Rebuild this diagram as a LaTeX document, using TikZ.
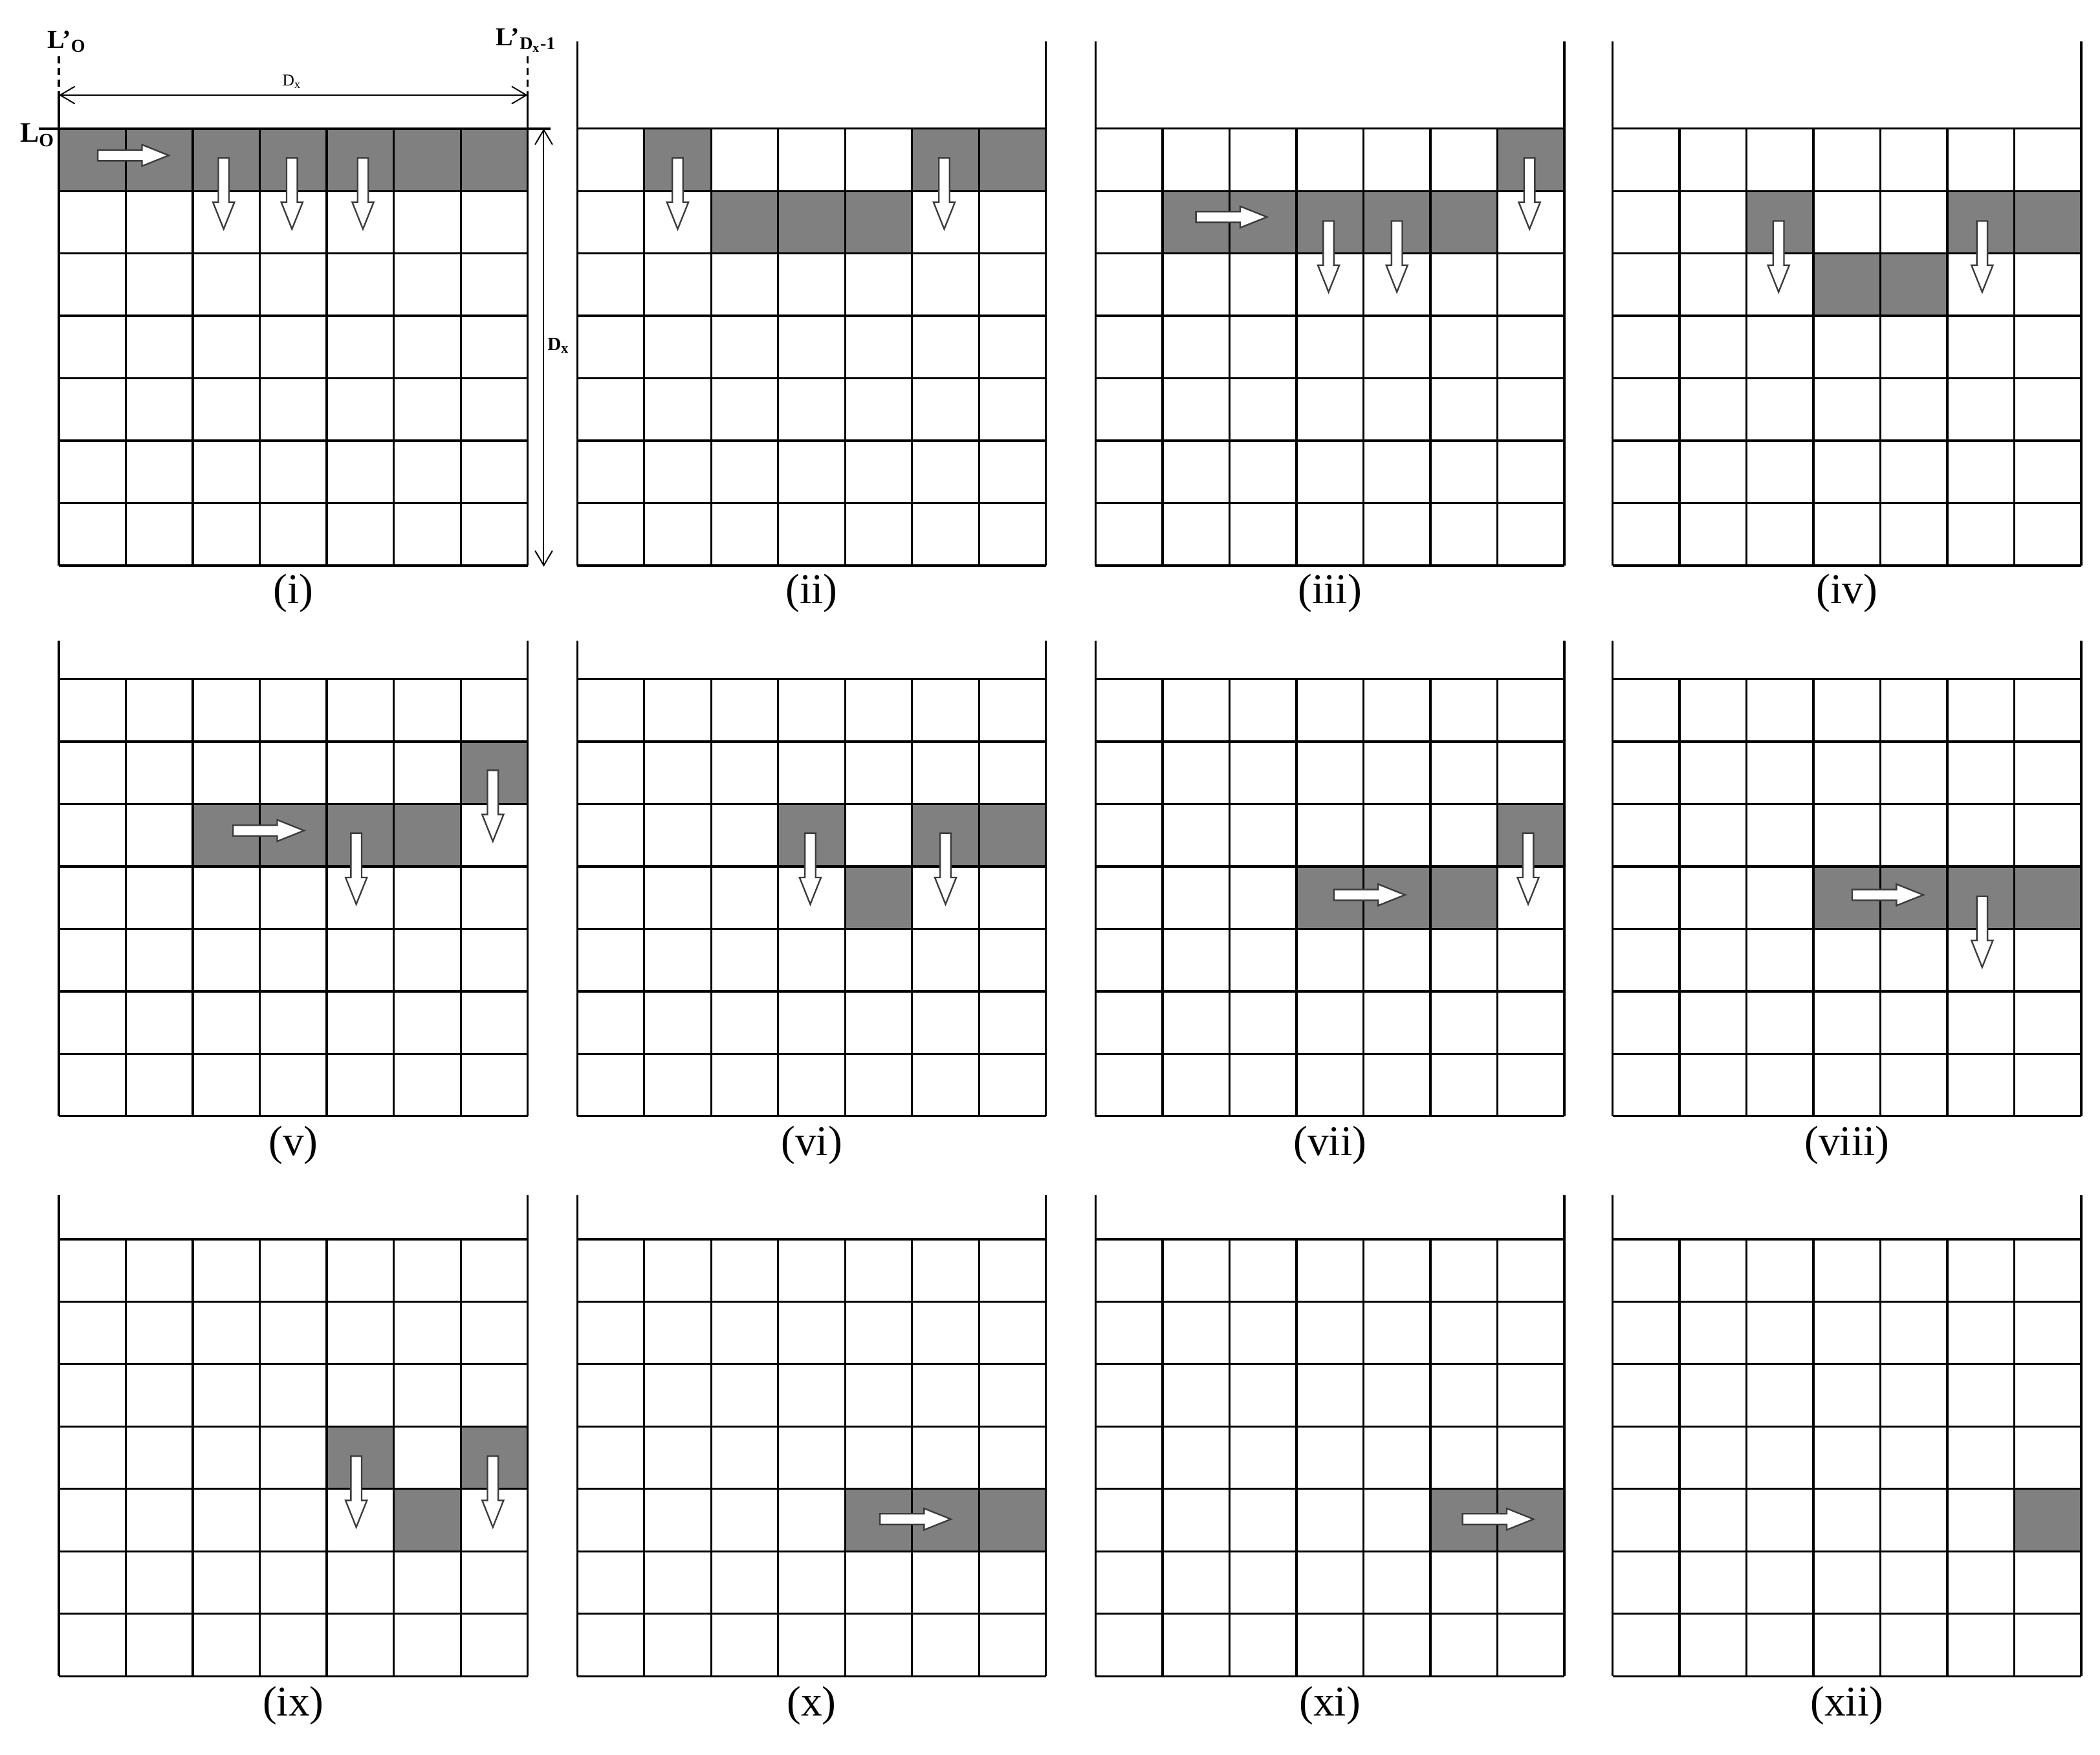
\documentclass[tikz,border=0pt]{standalone}
\usepackage{fontspec}
\setmainfont{Liberation Serif}
\usetikzlibrary{arrows.meta}
\definecolor{cellgray}{RGB}{128,128,128}
\definecolor{arrowline}{RGB}{60,60,60}
\tikzset{
  gridline/.style={line width=0.9pt, black},
  cellshade/.style={fill=cellgray},
  blockarrow/.style={fill=white, draw=arrowline, line width=0.65pt, line join=miter},
  dimarrow/.style={line width=0.55pt, {Straight Barb[length=0.22cm,width=0.26cm]}-{Straight Barb[length=0.22cm,width=0.26cm]}},
  caption/.style={font=\fontsize{18}{20}\selectfont, inner sep=0pt},
  smalllab/.style={inner sep=0pt},
}
\newcommand\cellfill[2]{\fill[cellshade] ({#1*50},{#2*46.6}) rectangle ({(#1+1)*50},{(#2+1)*46.6});}
\newcommand\gridbody{%
  \foreach \i in {0,...,7} {
    \draw[gridline] ({\i*50},0) -- ({\i*50},326.2);
    \draw[gridline] (0,{\i*46.6}) -- (350,{\i*46.6});
  }}
\newcommand\walls[1]{\draw[gridline] (0,0) -- (0,-#1); \draw[gridline] (350,0) -- (350,-#1);}
\newcommand\rarr[2]{\draw[blockarrow] (#1,#2-4) -- ++(33,0) -- ++(0,-4) -- ++(20,8) -- ++(-20,8) -- ++(0,-4) -- ++(-33,0) -- cycle;}
\newcommand\darr[2]{\draw[blockarrow] (#1-4,#2) -- ++(0,33) -- ++(-4,0) -- ++(8,20) -- ++(8,-20) -- ++(-4,0) -- ++(0,-33) -- cycle;}
\begin{document}
\begin{tikzpicture}[x=0.02cm,y=-0.02cm]
\useasboundingbox (0,0) rectangle (1568,1310);
\fill[white] (0,0) rectangle (1568,1310);

% ---------- panel (i)
\begin{scope}[shift={(44,96)}]
  \foreach \c in {0,...,6} {\cellfill{\c}{0}}
  \gridbody
\end{scope}
\coordinate (lt) at (44,42);
\coordinate (lm) at (44,71);
\coordinate (lb) at (44,96);
\coordinate (rt) at (394,42);
\coordinate (rm) at (394,71);
\coordinate (rb) at (394,96);
\draw[gridline, dashed, dash pattern=on 3pt off 2pt] (lt) -- (lm);
\draw[gridline, dashed, dash pattern=on 3pt off 2pt] (rt) -- (rm);
\draw[gridline] (lm) -- (lb);
\draw[gridline] (rm) -- (rb);
\draw[dimarrow] (lm) -- (rm);
\coordinate (l0a) at (29,96);
\coordinate (l0b) at (411,96);
\draw[line width=1.2pt] (l0a) -- (l0b);
\coordinate (va) at (406,96);
\coordinate (vb) at (406,423);
\draw[dimarrow] (va) -- (vb);
\node[smalllab, font=\bfseries\fontsize{11}{12}\selectfont] (lpo) at (50,31) {L’\textsubscript{O}};
\node[smalllab, font=\bfseries\fontsize{11}{12}\selectfont] (lpd) at (393,30) {L’\textsubscript{D\textsubscript{x}-1}};
\node[smalllab, font=\bfseries\fontsize{12}{13}\selectfont] (lo) at (28,101) {L\textsubscript{O}};
\node[smalllab, font=\fontsize{7}{8}\selectfont] (dxh) at (218,61) {D\textsubscript{x}};
\node[smalllab, font=\bfseries\fontsize{8}{9}\selectfont] (dxv) at (417,258) {D\textsubscript{x}};
\rarr{73}{116}
\darr{167}{118} \darr{218}{118} \darr{271}{118}
\node[caption] (c1) at (219,443) {(i)};

% ---------- panel (ii)
\begin{scope}[shift={(431,96)}]
  \cellfill{1}{0} \cellfill{5}{0} \cellfill{6}{0}
  \cellfill{2}{1} \cellfill{3}{1} \cellfill{4}{1}
  \gridbody \walls{65}
\end{scope}
\darr{506}{118} \darr{705}{118}
\node[caption] (c2) at (606,443) {(ii)};

% ---------- panel (iii)
\begin{scope}[shift={(818,96)}]
  \cellfill{6}{0}
  \foreach \c in {1,...,5} {\cellfill{\c}{1}}
  \gridbody \walls{65}
\end{scope}
\rarr{893}{162}
\darr{992}{165} \darr{1043}{165} \darr{1142}{118}
\node[caption] (c3) at (993,443) {(iii)};

% ---------- panel (iv)
\begin{scope}[shift={(1204,96)}]
  \cellfill{2}{1} \cellfill{5}{1} \cellfill{6}{1}
  \cellfill{3}{2} \cellfill{4}{2}
  \gridbody \walls{65}
\end{scope}
\darr{1328}{165} \darr{1480}{165}
\node[caption] (c4) at (1379,443) {(iv)};

% ---------- panel (v)
\begin{scope}[shift={(44,507)}]
  \cellfill{6}{1}
  \foreach \c in {2,...,5} {\cellfill{\c}{2}}
  \gridbody \walls{29}
\end{scope}
\rarr{174}{620}
\darr{266}{622} \darr{368}{575}
\node[caption] (c5) at (219,855) {(v)};

% ---------- panel (vi)
\begin{scope}[shift={(431,507)}]
  \cellfill{3}{2} \cellfill{5}{2} \cellfill{6}{2}
  \cellfill{4}{3}
  \gridbody \walls{29}
\end{scope}
\darr{605}{622} \darr{706}{622}
\node[caption] (c6) at (606,855) {(vi)};

% ---------- panel (vii)
\begin{scope}[shift={(818,507)}]
  \cellfill{6}{2}
  \cellfill{3}{3} \cellfill{4}{3} \cellfill{5}{3}
  \gridbody \walls{29}
\end{scope}
\rarr{996}{668}
\darr{1141}{622}
\node[caption] (c7) at (993,855) {(vii)};

% ---------- panel (viii)
\begin{scope}[shift={(1204,507)}]
  \foreach \c in {3,...,6} {\cellfill{\c}{3}}
  \gridbody \walls{29}
\end{scope}
\rarr{1383}{668}
\darr{1480}{669}
\node[caption] (c8) at (1379,855) {(viii)};

% ---------- panel (ix)
\begin{scope}[shift={(44,925)}]
  \cellfill{4}{3} \cellfill{6}{3}
  \cellfill{5}{4}
  \gridbody \walls{33}
\end{scope}
\darr{266}{1087} \darr{368}{1087}
\node[caption] (c9) at (219,1273) {(ix)};

% ---------- panel (x)
\begin{scope}[shift={(431,925)}]
  \cellfill{4}{4} \cellfill{5}{4} \cellfill{6}{4}
  \gridbody \walls{33}
\end{scope}
\rarr{657}{1134}
\node[caption] (c10) at (606,1273) {(x)};

% ---------- panel (xi)
\begin{scope}[shift={(818,925)}]
  \cellfill{5}{4} \cellfill{6}{4}
  \gridbody \walls{33}
\end{scope}
\rarr{1092}{1134}
\node[caption] (c11) at (993,1273) {(xi)};

% ---------- panel (xii)
\begin{scope}[shift={(1204,925)}]
  \cellfill{6}{4}
  \gridbody \walls{33}
\end{scope}
\node[caption] (c12) at (1379,1273) {(xii)};
\end{tikzpicture}
\end{document}
